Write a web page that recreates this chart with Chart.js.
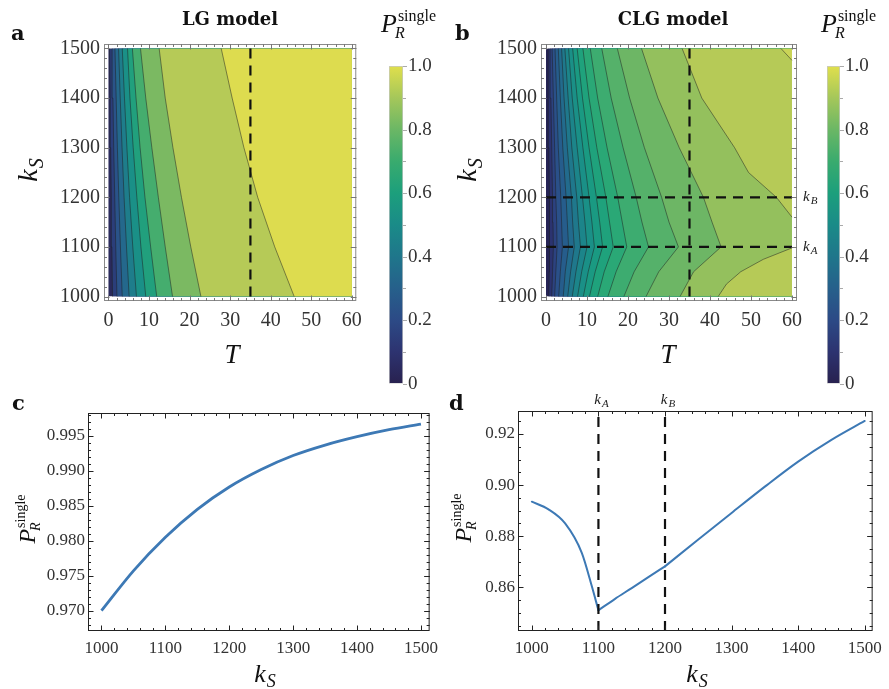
<!DOCTYPE html>
<html>
<head>
<meta charset="utf-8">
<title>P_R single – LG and CLG models</title>
<script src="https://cdn.jsdelivr.net/npm/chart.js@4/dist/chart.umd.min.js"></script>
<style>
html,body{margin:0;padding:0;background:#fff;}
#wrap{position:relative;width:889px;height:689px;overflow:hidden;background:#fff;}
canvas{position:absolute;}
</style>
</head>
<body>
<div id="wrap">
<canvas id="cA" width="370" height="380" style="left:0px;top:0px"></canvas>
<canvas id="cAbar" width="75" height="400" style="left:370px;top:0px"></canvas>
<canvas id="cB" width="380" height="380" style="left:445px;top:0px"></canvas>
<canvas id="cBbar" width="74" height="400" style="left:815px;top:0px"></canvas>
<canvas id="cC" width="445" height="299" style="left:0px;top:390px"></canvas>
<canvas id="cD" width="444" height="299" style="left:445px;top:390px"></canvas>
</div>
<script>
// ====================== DATA ======================
const tTicks = [0, 10, 20, 30, 40, 50, 60];
const ksTicks = [1000, 1100, 1200, 1300, 1400, 1500];
const cbTicks = [0, 0.2, 0.4, 0.6, 0.8, 1.0];
const cbTickLabels = ['0', '0.2', '0.4', '0.6', '0.8', '1.0'];
const cbRange = [0, 1];

// Panel a (LG model): contour boundaries, T value at each ks row (left -> right)
const ksRowsA = [1000, 1100, 1200, 1300, 1400, 1500];
const lgContourT = [
  [1.0, 0.85, 0.7, 0.55, 0.42, 0.3],
  [2.1, 1.8, 1.55, 1.3, 1.1, 0.9],
  [3.4, 2.95, 2.55, 2.2, 1.9, 1.6],
  [5.1, 4.45, 3.85, 3.35, 2.9, 2.5],
  [6.9, 6.0, 5.2, 4.55, 3.95, 3.4],
  [9.2, 8.0, 7.0, 6.1, 5.3, 4.7],
  [11.9, 10.4, 9.0, 7.8, 6.8, 5.9],
  [15.8, 14.0, 12.3, 10.7, 9.2, 7.9],
  [22.8, 20.3, 18.0, 15.9, 14.0, 12.5],
  [45.8, 41.0, 36.8, 33.4, 30.5, 27.8]
];
const lgMarkerT = 35;

// Panel b (CLG model)
const ksRowsB = [1000, 1050, 1100, 1150, 1200, 1300, 1400, 1500];
const clgContourT = [
  [0.7, 0.8, 0.9, 0.86, 0.81, 0.69, 0.58, 0.5],
  [1.4, 1.6, 1.8, 1.7, 1.6, 1.4, 1.2, 1.0],
  [2.1, 2.4, 2.7, 2.6, 2.4, 2.1, 1.8, 1.5],
  [3.1, 3.5, 4.0, 3.8, 3.6, 3.0, 2.6, 2.2],
  [4.2, 4.7, 5.5, 5.2, 4.9, 4.1, 3.5, 3.0],
  [5.3, 6.0, 6.9, 6.5, 6.2, 5.2, 4.4, 3.8],
  [6.4, 7.3, 8.4, 7.9, 7.5, 6.3, 5.4, 4.6],
  [7.7, 8.7, 10.0, 9.5, 8.9, 7.6, 6.4, 5.5],
  [9.1, 10.3, 11.8, 11.2, 10.5, 9.0, 7.6, 6.5],
  [10.6, 12.0, 13.8, 13.1, 12.3, 10.5, 8.9, 7.6],
  [12.6, 14.2, 16.4, 15.5, 14.6, 12.4, 10.5, 9.0],
  [15.1, 17.1, 19.7, 18.6, 17.5, 14.9, 12.6, 10.8],
  [19.0, 21.5, 25.0, 23.4, 22.0, 18.8, 15.9, 13.6],
  [24.4, 27.5, 32.3, 30.0, 28.2, 24.0, 20.4, 17.4],
  [32.7, 36.0, 42.7, 40.5, 38.4, 32.5, 27.3, 23.3]
];
const clgUpperKs = [1160, 1200, 1250, 1300, 1400, 1500];
const clgUpperT  = [60, 56.2, 49.4, 46.0, 38.0, 33.2];
const clgLowerKs = [1000, 1025, 1050, 1075, 1098];
const clgLowerT  = [42.0, 44.0, 47.5, 53.0, 60.0];
const clgCornerKs = [1476, 1500];
const clgCornerT  = [60, 57.3];
const clgMarkerT = 35;
const kAB = [1100, 1200];          // k_A, k_B
const kABnames = ['A', 'B'];

// Panel c (LG, T = 35)
const ksC = [1000, 1050, 1100, 1150, 1200, 1250, 1300, 1350, 1400, 1450, 1500];
const pLG = [0.9700, 0.9757, 0.9805, 0.9845, 0.9877, 0.9902, 0.9922, 0.9937, 0.9949, 0.9959, 0.9967];
const cYTicks = [0.970, 0.975, 0.980, 0.985, 0.990, 0.995];
const cYLabels = ['0.970', '0.975', '0.980', '0.985', '0.990', '0.995'];
const ksAxisTicks = [1000, 1100, 1200, 1300, 1400, 1500];

// Panel d (CLG, T = 35)
const ksD  = [1000, 1025, 1050, 1075, 1090, 1100, 1125, 1150, 1175, 1200, 1250, 1300, 1350, 1400, 1450, 1500];
const pCLG = [0.8935, 0.8905, 0.8850, 0.8735, 0.8605, 0.8510, 0.8555, 0.8597, 0.8640, 0.8682, 0.8787, 0.8891, 0.8994, 0.9092, 0.9177, 0.9251];
const dYTicks = [0.86, 0.88, 0.90, 0.92];
const dYLabels = ['0.86', '0.88', '0.90', '0.92'];

// ====================== STYLE ======================
const SERIF = '"Liberation Serif","DejaVu Serif",serif';
const BOLDSERIF = '"DejaVu Serif","Liberation Serif",serif';
Chart.defaults.font.family = SERIF;
Chart.defaults.color = '#333';
const F = (style, size) => `${style} ${size}px ${SERIF}`;
const FB = (size) => `bold ${size}px ${BOLDSERIF}`;

const cbStops = [[0,'#28214f'],[0.1,'#2d3370'],[0.2,'#2c4a86'],[0.3,'#26608b'],[0.4,'#1f768b'],
  [0.5,'#1a8b88'],[0.6,'#1c9f7c'],[0.7,'#39ab6e'],[0.8,'#6bb765'],[0.9,'#a5c75a'],[1.0,'#e0df4c']];
const lgBandColors = ['#2a2a5c','#2b3e7a','#2a5389','#24688c','#1e7d8b','#1a9087','#21a07d','#45ad6e','#7bb962','#b6ca57','#dddc4f'];
const clgBandColors = ['#262456','#2b3370','#2c4280','#2a5089','#265d8c','#226b8d','#1f788c','#1c858a','#1a9087',
  '#1a9a82','#1fa27c','#2aa876','#3dac70','#55b16a','#6db665','#94c05d'];
const clgUpperColor = '#b6ca57', clgLowerColor = '#b6ca57', clgCornerColor = '#cad457';
const contourLine = 'rgba(30,30,30,0.55)';
const curveColor = '#3d79b5';

// ====================== HELPERS ======================
function drawParts(ctx, x, y, rot, align, groups, color) {
  ctx.save();
  ctx.translate(x, y);
  if (rot) ctx.rotate(rot);
  const widths = groups.map(g => Math.max(...g.map(p => { ctx.font = p.f; return ctx.measureText(p.t).width + (p.dx || 0); })));
  const W = widths.reduce((a, b) => a + b, 0);
  let cx = align === 'center' ? -W / 2 : (align === 'right' ? -W : 0);
  ctx.textBaseline = 'alphabetic'; ctx.textAlign = 'left';
  groups.forEach((g, i) => {
    g.forEach(p => { ctx.font = p.f; ctx.fillStyle = color || '#111'; ctx.fillText(p.t, cx + (p.dx || 0), p.dy || 0); });
    cx += widths[i];
  });
  ctx.restore();
}
const plain = (t, f) => [[{t, f}]];
const kSub = (size, sub) => [[{t: 'k', f: F('italic', size)}], [{t: sub, f: F('italic', Math.round(size * 0.7)), dy: size * 0.2, dx: 1}]];
const PR = (size) => [[{t: 'P', f: F('italic', size)}],
  [{t: 'single', f: F('normal', Math.round(size * 0.6)), dy: -size * 0.42, dx: 1}, {t: 'R', f: F('italic', Math.round(size * 0.6)), dy: size * 0.22, dx: -2}]];

function range(a, b, s) { const r = []; for (let v = a; v <= b + s * 1e-6; v += s) r.push(+v.toFixed(6)); return r; }

function makeDeco(cfg) {
  return {
    id: 'deco',
    afterDraw(chart) {
      const {ctx, chartArea: a, scales} = chart;
      ctx.save();
      if (cfg.frame) {
        ctx.strokeStyle = cfg.frame; ctx.lineWidth = 1;
        ctx.strokeRect(a.left + 0.5, a.top + 0.5, a.right - a.left - 1, a.bottom - a.top - 1);
        ctx.strokeStyle = cfg.tickColor || cfg.frame;
        const drawT = (scale, vals, len) => {
          vals.forEach(v => {
            const p = Math.round(scale.getPixelForValue(v)) + 0.5;
            ctx.beginPath();
            if (scale.isHorizontal()) {
              ctx.moveTo(p, a.bottom); ctx.lineTo(p, a.bottom - len);
              ctx.moveTo(p, a.top); ctx.lineTo(p, a.top + len);
            } else {
              ctx.moveTo(a.left, p); ctx.lineTo(a.left + len, p);
              ctx.moveTo(a.right, p); ctx.lineTo(a.right - len, p);
            }
            ctx.stroke();
          });
        };
        drawT(scales.x, cfg.xMinor, 3); drawT(scales.x, cfg.xMajor, 5.5);
        drawT(scales.y, cfg.yMinor, 3); drawT(scales.y, cfg.yMajor, 5.5);
      }
      if (cfg.cbar) {
        ctx.strokeStyle = '#aaa'; ctx.lineWidth = 1;
        range(0, 1, 0.1).forEach((v, i) => {
          const p = Math.round(scales.y.getPixelForValue(v)) + 0.5;
          ctx.beginPath(); ctx.moveTo(a.right, p); ctx.lineTo(a.right + (i % 2 === 0 ? 4 : 3), p); ctx.stroke();
        });
      }
      (cfg.texts || []).forEach(t => drawParts(ctx, t.x - cfg.ox, t.y - cfg.oy, t.rot || 0, t.align || 'left', t.g, t.c));
      if (cfg.extra) cfg.extra(chart, ctx);
      ctx.restore();
    }
  };
}

function contourDatasets(rows, lines, colors) {
  const ds = [];
  let order = 1000;
  ds.push({data: [{x: tTicks[0], y: ksTicks[0]}, {x: tTicks[0], y: ksTicks[ksTicks.length - 1]}],
    fill: {value: tTicks[tTicks.length - 1]}, backgroundColor: colors[0], borderWidth: 0, order: order--});
  lines.forEach((tv, i) => {
    ds.push({data: rows.map((k, j) => ({x: tv[j], y: k})), fill: {value: tTicks[tTicks.length - 1]},
      backgroundColor: colors[i + 1], borderColor: contourLine, borderWidth: 0.9, order: order--});
  });
  return ds;
}
function extraContour(ks, ts, color, order) {
  return {data: ks.map((k, j) => ({x: ts[j], y: k})), fill: {value: tTicks[tTicks.length - 1]},
    backgroundColor: color, borderColor: contourLine, borderWidth: 0.9, order};
}
const dashed = (pts) => ({data: pts, borderColor: '#111', borderWidth: 2.2, borderDash: [10, 7], fill: false, order: 0});

function contourChart(id, datasets, xr, yr, padding, yW, deco) {
  return new Chart(document.getElementById(id), {
    type: 'line',
    data: {datasets},
    options: {
      responsive: false, animation: false, indexAxis: 'y', events: [],
      layout: {padding},
      elements: {point: {radius: 0}, line: {tension: 0}},
      plugins: {legend: {display: false}, tooltip: {enabled: false}},
      scales: {
        x: {type: 'linear', position: 'bottom', min: xr[0], max: xr[1], grid: {display: false, drawTicks: false}, border: {display: false},
          afterBuildTicks: s => { s.ticks = tTicks.map(v => ({value: v})); },
          afterFit: s => { s.height = 79; },
          ticks: {font: {size: 20}, padding: 8, color: '#333', maxRotation: 0, autoSkip: false, callback: v => String(v)}},
        y: {type: 'linear', position: 'left', min: yr[0], max: yr[1], grid: {display: false, drawTicks: false}, border: {display: false},
          afterBuildTicks: s => { s.ticks = ksTicks.map(v => ({value: v})); },
          afterFit: s => { s.width = yW; },
          ticks: {font: {size: 20}, padding: 4, color: '#333', autoSkip: false, callback: v => String(v)}}
      }
    },
    plugins: [deco]
  });
}

function cbGradient(chart) {
  const a = chart.chartArea;
  if (!a) return '#1fa07a';
  const g = chart.ctx.createLinearGradient(0, a.bottom, 0, a.top);
  cbStops.forEach(([o, c]) => g.addColorStop(o, c));
  return g;
}
function colorbar(id, padding, axisW, deco) {
  return new Chart(document.getElementById(id), {
    type: 'bar',
    data: {labels: [''], datasets: [{data: [cbRange], backgroundColor: ctx => cbGradient(ctx.chart),
      borderColor: '#c8c8c8', borderWidth: 1, borderSkipped: false, barPercentage: 1, categoryPercentage: 1}]},
    options: {
      responsive: false, animation: false, events: [], layout: {padding},
      plugins: {legend: {display: false}, tooltip: {enabled: false}},
      scales: {
        x: {display: false},
        y: {position: 'right', min: 0, max: 1, grid: {display: false, drawTicks: false}, border: {display: false},
          afterBuildTicks: s => { s.ticks = cbTicks.map(v => ({value: v})); },
          afterFit: s => { s.width = axisW; },
          ticks: {font: {size: 19}, padding: 5, color: '#333', callback: (v, i) => cbTickLabels[i]}}
      }
    },
    plugins: [deco]
  });
}

// ====================== PANEL a ======================
const dsA = contourDatasets(ksRowsA, lgContourT, lgBandColors);
dsA.push(dashed([{x: lgMarkerT, y: ksTicks[0]}, {x: lgMarkerT, y: ksTicks[ksTicks.length - 1]}]));
contourChart('cA', dsA, [-1.1, 61.1], [991, 1509], {left: 0, right: 11, top: 44, bottom: 0}, 104,
  makeDeco({ox: 0, oy: 0, frame: '#8a8a8a', tickColor: '#777',
    xMajor: tTicks, xMinor: range(0, 60, 2), yMajor: ksTicks, yMinor: range(1000, 1500, 20),
    texts: [
      {x: 11, y: 40, g: plain('a', FB(21))},
      {x: 230, y: 25, align: 'center', g: plain('LG model', FB(18))},
      {x: 37, y: 170, rot: -Math.PI / 2, align: 'center', g: kSub(28, 'S')},
      {x: 232, y: 363, align: 'center', g: plain('T', F('italic', 27))}
    ]}));

colorbar('cAbar', {left: 19, right: 0, top: 66, bottom: 15}, 42,
  makeDeco({ox: 370, oy: 0, cbar: true, texts: [{x: 381, y: 32, g: PR(26)}]}));

// ====================== PANEL b ======================
const dsB = contourDatasets(ksRowsB, clgContourT, clgBandColors);
dsB.push(extraContour(clgUpperKs, clgUpperT, clgUpperColor, 30));
dsB.push(extraContour(clgLowerKs, clgLowerT, clgLowerColor, 29));
dsB.push(extraContour(clgCornerKs, clgCornerT, clgCornerColor, 28));
kAB.forEach(k => dsB.push(dashed([{x: tTicks[0], y: k}, {x: tTicks[tTicks.length - 1], y: k}])));
dsB.push(dashed([{x: clgMarkerT, y: ksTicks[0]}, {x: clgMarkerT, y: ksTicks[ksTicks.length - 1]}]));
contourChart('cB', dsB, [-1.22, 61.22], [991, 1509], {left: 0, right: 28, top: 44, bottom: 0}, 96,
  makeDeco({ox: 445, oy: 0, frame: '#8a8a8a', tickColor: '#777',
    xMajor: tTicks, xMinor: range(0, 60, 2), yMajor: ksTicks, yMinor: range(1000, 1500, 20),
    texts: [
      {x: 455, y: 40, g: plain('b', FB(21))},
      {x: 673, y: 25, align: 'center', g: plain('CLG model', FB(18))},
      {x: 476, y: 170, rot: -Math.PI / 2, align: 'center', g: kSub(28, 'S')},
      {x: 668, y: 363, align: 'center', g: plain('T', F('italic', 27))}
    ],
    extra: (chart, ctx) => {
      kAB.forEach((k, i) => {
        const y = chart.scales.y.getPixelForValue(k);
        drawParts(ctx, 803 - 445, y + 4, 0, 'left', kSub(15, kABnames[i]), '#222');
      });
    }}));

colorbar('cBbar', {left: 12, right: 0, top: 66, bottom: 15}, 49,
  makeDeco({ox: 815, oy: 0, cbar: true, texts: [{x: 821, y: 32, g: PR(26)}]}));

// ====================== PANEL c / d ======================
function lineChart(id, datasets, xr, yr, yTicks, yLabels, padding, yW, deco) {
  return new Chart(document.getElementById(id), {
    type: 'line',
    data: {datasets},
    options: {
      responsive: false, animation: false, events: [],
      layout: {padding},
      elements: {point: {radius: 0}},
      plugins: {legend: {display: false}, tooltip: {enabled: false}},
      scales: {
        x: {type: 'linear', min: xr[0], max: xr[1], grid: {display: false, drawTicks: false}, border: {display: false},
          afterBuildTicks: s => { s.ticks = ksAxisTicks.map(v => ({value: v})); },
          afterFit: s => { s.height = 58; },
          ticks: {font: {size: 17}, padding: 7, color: '#333', maxRotation: 0, autoSkip: false, callback: v => String(v)}},
        y: {type: 'linear', min: yr[0], max: yr[1], grid: {display: false, drawTicks: false}, border: {display: false},
          afterBuildTicks: s => { s.ticks = yTicks.map(v => ({value: v})); },
          afterFit: s => { s.width = yW; },
          ticks: {font: {size: 17}, padding: 3, color: '#333', autoSkip: false, callback: (v, i) => yLabels[i]}}
      }
    },
    plugins: [deco]
  });
}

lineChart('cC', [{data: ksC.map((k, i) => ({x: k, y: pLG[i]})), borderColor: curveColor, borderWidth: 2.8,
    cubicInterpolationMode: 'monotone', fill: false}],
  [978.9, 1513.6], [0.96710, 0.99829], cYTicks, cYLabels, {left: 0, right: 2, top: 23, bottom: 0}, 88,
  makeDeco({ox: 0, oy: 390, frame: '#222', tickColor: '#222',
    xMajor: ksAxisTicks, xMinor: range(1000, 1500, 20), yMajor: cYTicks, yMinor: range(0.968, 0.998, 0.001),
    texts: [
      {x: 12, y: 410, g: plain('c', FB(21))},
      {x: 35, y: 519, rot: -Math.PI / 2, align: 'center', g: PR(24)},
      {x: 265, y: 682, align: 'center', g: kSub(26, 'S')}
    ]}));

const yRangeD = [0.8429, 0.9290];
const dsD = [];
const segBounds = [ksD[0], ...kAB, ksD[ksD.length - 1]];
for (let s = 0; s < segBounds.length - 1; s++) {
  const pts = ksD.map((k, i) => ({x: k, y: pCLG[i]})).filter(p => p.x >= segBounds[s] && p.x <= segBounds[s + 1]);
  dsD.push({data: pts, borderColor: curveColor, borderWidth: 2, cubicInterpolationMode: 'monotone',
    borderCapStyle: 'round', borderJoinStyle: 'round', fill: false, order: 1});
}
kAB.forEach(k => dsD.push({data: [{x: k, y: yRangeD[0]}, {x: k, y: yRangeD[1]}], borderColor: '#111', borderWidth: 2.2,
  borderDash: [10, 7], fill: false, order: 0}));
lineChart('cD', dsD, [979.2, 1511.9], yRangeD, dYTicks, dYLabels, {left: 0, right: 12, top: 21, bottom: 0}, 73,
  makeDeco({ox: 445, oy: 390, frame: '#222', tickColor: '#222',
    xMajor: ksAxisTicks, xMinor: range(1000, 1500, 20), yMajor: dYTicks, yMinor: range(0.845, 0.925, 0.005),
    texts: [
      {x: 449, y: 410, g: plain('d', FB(21))},
      {x: 471, y: 518, rot: -Math.PI / 2, align: 'center', g: PR(24)},
      {x: 697, y: 682, align: 'center', g: kSub(26, 'S')}
    ],
    extra: (chart, ctx) => {
      kAB.forEach((k, i) => {
        const x = chart.scales.x.getPixelForValue(k);
        drawParts(ctx, x + 3, 404 - 390, 0, 'center', kSub(15, kABnames[i]), '#222');
      });
    }}));
</script>
</body>
</html>
